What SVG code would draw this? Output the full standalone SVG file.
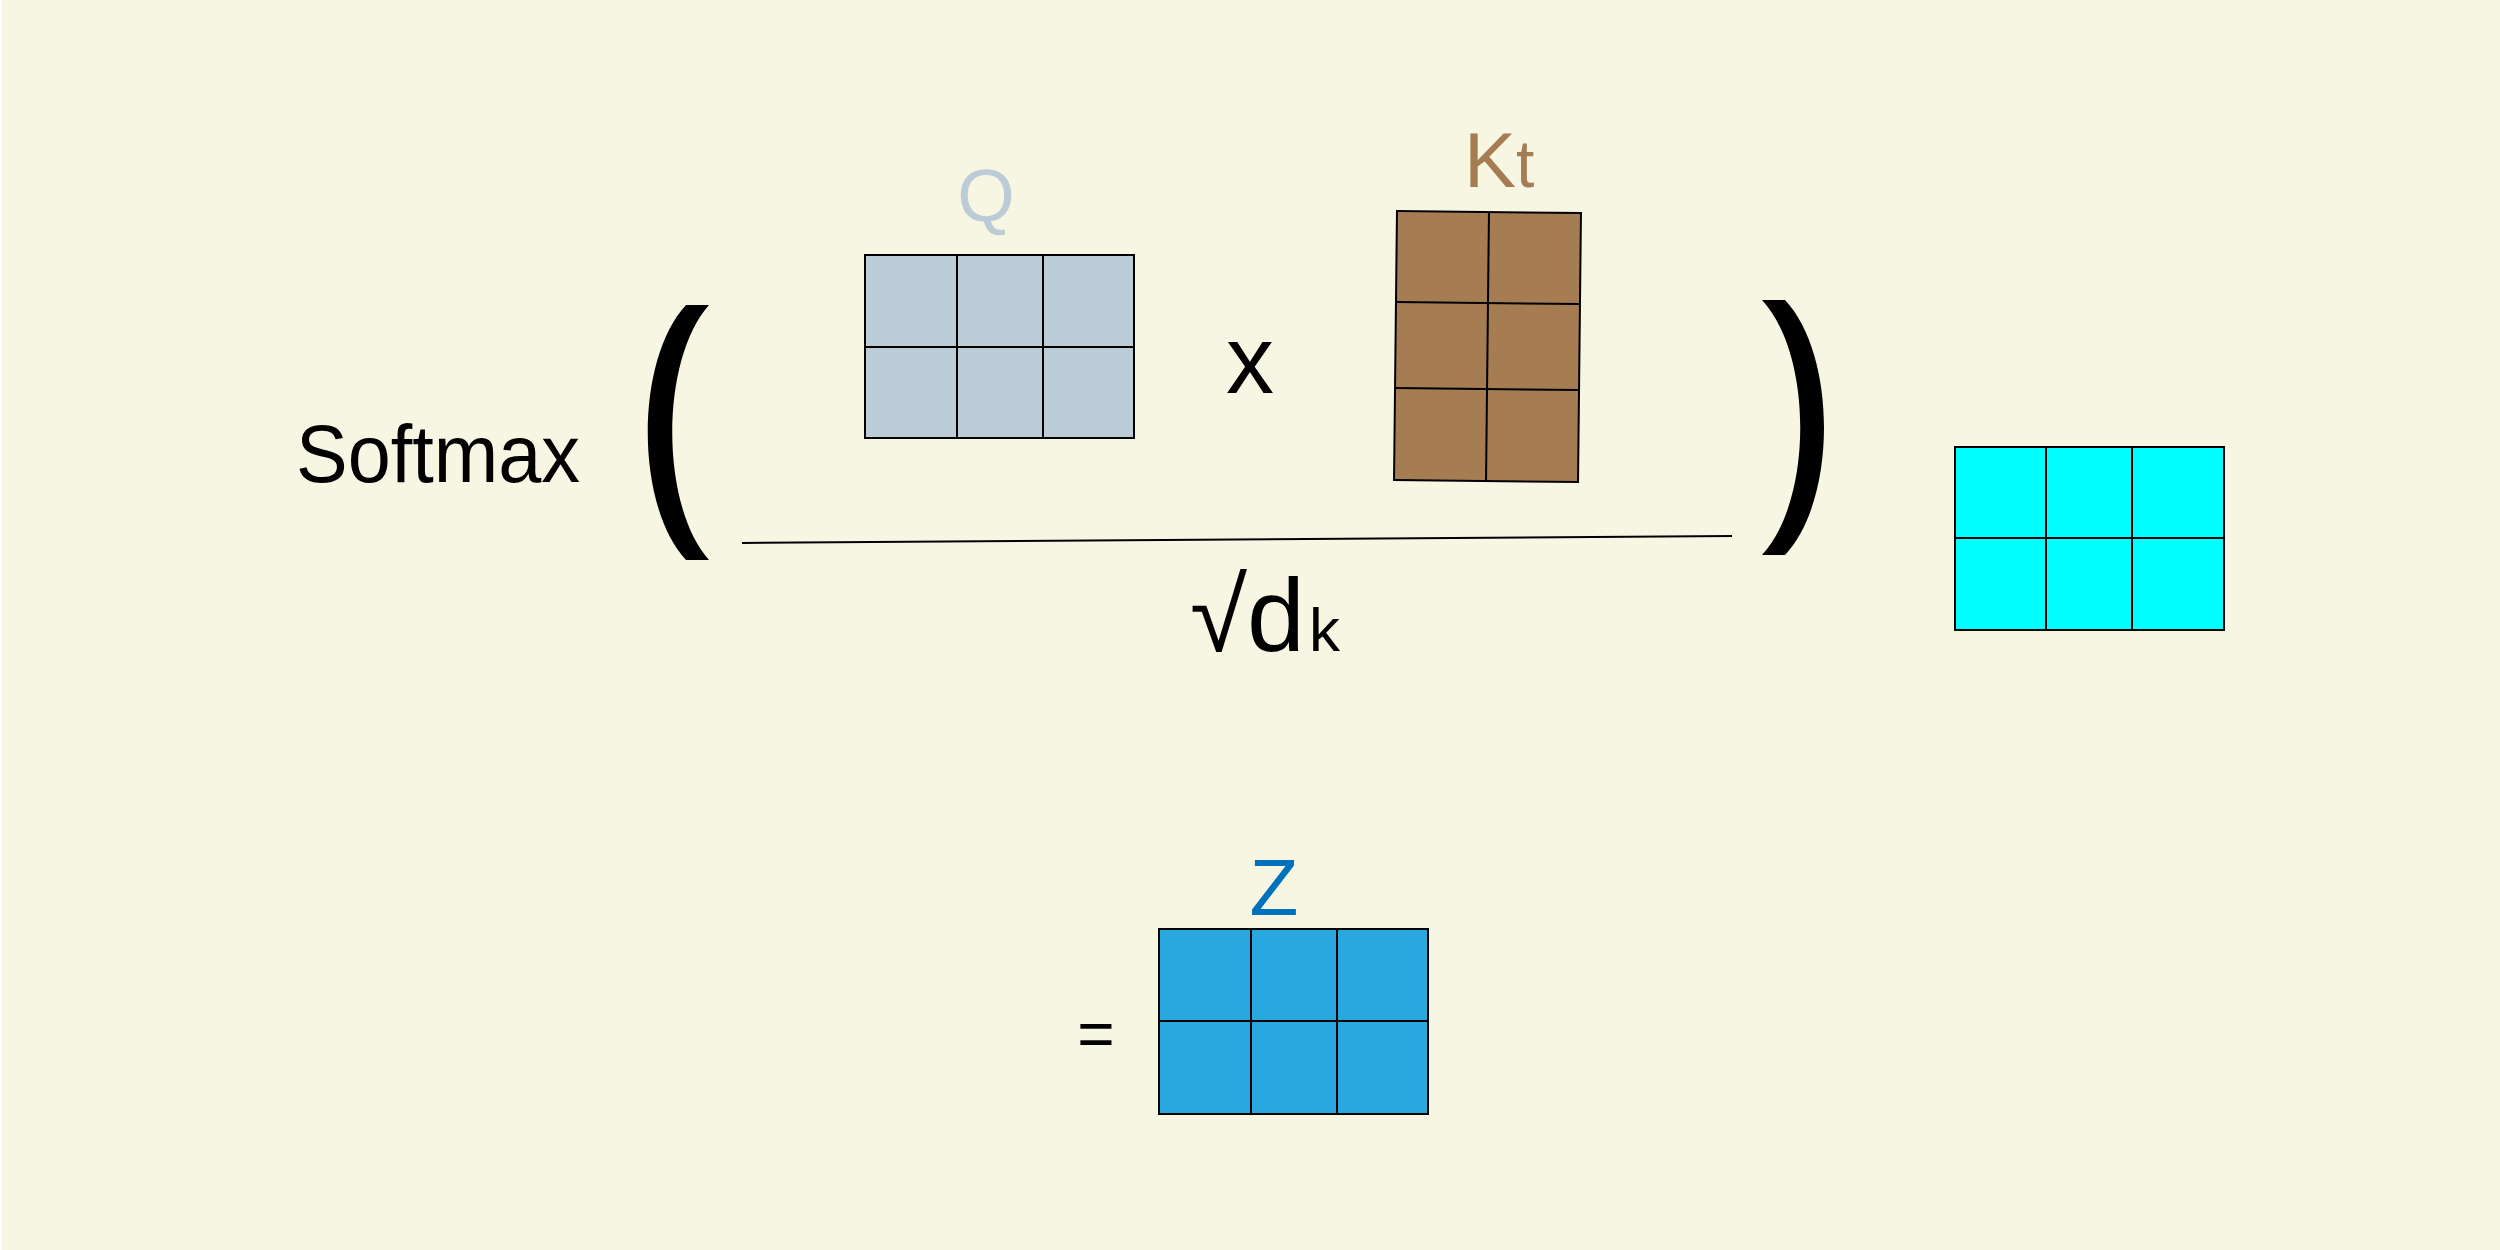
<svg xmlns="http://www.w3.org/2000/svg" width="2500" height="1250" viewBox="0 0 2500 1250">
  <style>
    .t { font-family: "Liberation Sans", Arial, sans-serif; }
    .grid { stroke: #000; stroke-width: 2; }
    .gl { stroke: #000; stroke-width: 2; fill: none; }
  </style>
  <rect x="0" y="0" width="2500" height="1250" fill="#ffffff"/>
  <rect x="2" y="0" width="2498" height="1250" fill="#F7F6E3"/>

  <g id="softmax">
    <text class="t" x="296" y="482" font-size="82" fill="#000" textLength="284" lengthAdjust="spacingAndGlyphs">Softmax</text>
  </g>

  <g id="paren-left">
    <path d="M 709 305 L 686 305 C 635 360 635 505 686 560 L 709 560 C 660 505 660 360 709 305 Z" fill="#000"/>
  </g>

  <g id="matrix-q">
    <text class="t" x="986" y="221" font-size="74" fill="#BCCCD6" text-anchor="middle">Q</text>
    <rect class="grid" x="865" y="255" width="269" height="183" fill="#BCCCD6"/>
    <line class="gl" x1="957" y1="255" x2="957" y2="438"/>
    <line class="gl" x1="1043" y1="255" x2="1043" y2="438"/>
    <line class="gl" x1="865" y1="347" x2="1134" y2="347"/>
  </g>

  <g id="times">
    <text class="t" x="1250" y="393" font-size="96" fill="#000" text-anchor="middle">x</text>
  </g>

  <g id="matrix-kt">
    <text class="t" x="1464" y="187" font-size="78" fill="#A67C52">K<tspan font-size="66">t</tspan></text>
    <g transform="rotate(0.63 1487.5 346.5)">
      <rect class="grid" x="1395.5" y="212" width="184" height="269" fill="#A67C52"/>
      <line class="gl" x1="1487.5" y1="212" x2="1487.5" y2="481"/>
      <line class="gl" x1="1395.5" y1="303" x2="1579.5" y2="303"/>
      <line class="gl" x1="1395.5" y1="389" x2="1579.5" y2="389"/>
    </g>
  </g>

  <g id="paren-right">
    <path d="M 1762 300 L 1785 300 C 1837 355 1837 500 1785 555 L 1762 555 C 1813 500 1813 355 1762 300 Z" fill="#000"/>
  </g>

  <g id="connectors">
    <line x1="742" y1="543" x2="1732" y2="536" stroke="#000" stroke-width="2"/>
  </g>

  <g id="denominator">
    <text class="t" x="1190" y="651" font-size="104" fill="#000">√d<tspan font-size="62" dx="4">k</tspan></text>
  </g>

  <g id="matrix-cyan">
    <rect class="grid" x="1955" y="447" width="269" height="183" fill="#00FFFF" stroke-width="3"/>
    <line class="gl" x1="2046" y1="447" x2="2046" y2="630"/>
    <line class="gl" x1="2132" y1="447" x2="2132" y2="630"/>
    <line class="gl" x1="1955" y1="538" x2="2224" y2="538"/>
  </g>

  <g id="equals">
    <text class="t" x="1096" y="1056" font-size="64" fill="#000" text-anchor="middle">=</text>
  </g>

  <g id="matrix-z">
    <text class="t" x="1274" y="915" font-size="80" fill="#0071BC" text-anchor="middle">Z</text>
    <rect class="grid" x="1159" y="929" width="269" height="185" fill="#29A8E0"/>
    <line class="gl" x1="1251" y1="929" x2="1251" y2="1114"/>
    <line class="gl" x1="1337" y1="929" x2="1337" y2="1114"/>
    <line class="gl" x1="1159" y1="1021" x2="1428" y2="1021"/>
  </g>
</svg>
